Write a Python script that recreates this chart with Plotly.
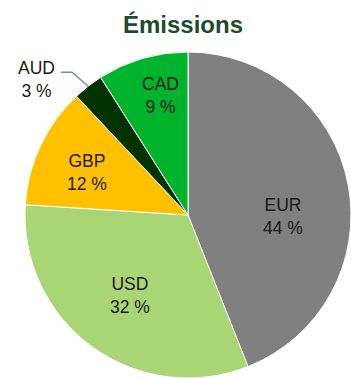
import math
import plotly.graph_objects as go

currencies = ["EUR", "USD", "GBP", "AUD", "CAD"]
shares = [44, 32, 12, 3, 9]
slice_colors = ["#808080", "#A9D574", "#FFC000", "#003300", "#00B32D"]
outside_label = "AUD"

# label placement inside each slice: fraction of radius and angular nudge (deg)
label_radius_frac = [0.58, 0.61, 0.67, None, 0.75]
label_angle_nudge = [12, 0, -2.5, None, 3]

W, H = 351, 378
FONT = "Liberation Sans, Arial, sans-serif"
LABEL_SIZE = 17.5
TEXT_COLOR = "#1a1a1a"

# pie domain in pixels (left, right, top, bottom)
px_left, px_right, px_top, px_bottom = 25, 351, 52, 378
dom_x = [px_left / W, px_right / W]
dom_y = [1 - px_bottom / H, 1 - px_top / H]

fig = go.Figure(
    go.Pie(
        labels=currencies,
        values=shares,
        sort=False,
        direction="clockwise",
        rotation=0,
        marker=dict(colors=slice_colors, line=dict(color="white", width=1)),
        textinfo="none",
        domain=dict(x=dom_x, y=dom_y),
        hoverinfo="label+percent",
        showlegend=False,
    )
)

cx = (px_left + px_right) / 2
cy = (px_top + px_bottom) / 2
radius = min(px_right - px_left, px_bottom - px_top) / 2
total = sum(shares)


def to_paper(x, y):
    return x / W, 1 - y / H


def mid_angle(i):
    return 360 * (sum(shares[:i]) + shares[i] / 2) / total


def polar(angle_deg, r):
    t = math.radians(angle_deg)
    return cx + r * math.sin(t), cy - r * math.cos(t)


# labels inside the slices
for i, cur in enumerate(currencies):
    if cur == outside_label:
        continue
    x, y = polar(mid_angle(i) + label_angle_nudge[i], radius * label_radius_frac[i])
    ax, ay = to_paper(x, y)
    fig.add_annotation(
        x=ax, y=ay, xref="paper", yref="paper",
        xanchor="center", yanchor="middle", align="center",
        showarrow=False,
        text=f"{cur}<br>{shares[i]} %",
        font=dict(family=FONT, size=LABEL_SIZE, color=TEXT_COLOR),
    )

# leader line and label for the small slice
idx = currencies.index(outside_label)
rim_x, rim_y = polar(mid_angle(idx), radius)
elbow_x, elbow_y = rim_x - 16, rim_y - 14
start_x = elbow_x - 11

p0, p1, p2 = to_paper(start_x, elbow_y), to_paper(elbow_x, elbow_y), to_paper(rim_x, rim_y)
fig.add_shape(
    type="path",
    xref="paper",
    yref="paper",
    path=f"M {p0[0]},{p0[1]} L {p1[0]},{p1[1]} L {p2[0]},{p2[1]}",
    line=dict(color="#7F8A96", width=1.5),
)
lx, ly = to_paper(start_x - 4, elbow_y - 16)
fig.add_annotation(
    x=lx, y=ly, xref="paper", yref="paper",
    xanchor="right", yanchor="top", align="center",
    showarrow=False,
    text=f"{outside_label}<br>{shares[idx]} %",
    font=dict(family=FONT, size=LABEL_SIZE, color=TEXT_COLOR),
)

fig.update_layout(
    width=W,
    height=H,
    margin=dict(l=0, r=0, t=0, b=0),
    paper_bgcolor="white",
    title=dict(
        text="<b>Émissions</b>",
        x=183 / W,
        xanchor="center",
        y=1 - 25 / H,
        yanchor="middle",
        font=dict(family=FONT, size=24, color="#1E4D2B"),
    ),
)

fig.write_html("out.html")
